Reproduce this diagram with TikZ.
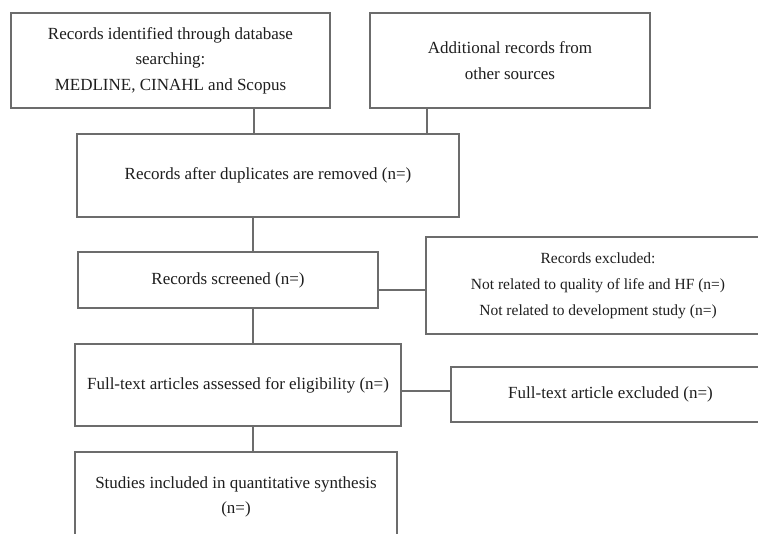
\documentclass[tikz,border=0pt]{standalone}
\usepackage{fontspec}
\setmainfont{Liberation Serif}
\definecolor{boxgray}{RGB}{108,108,108}
\definecolor{textgray}{RGB}{30,30,30}
\tikzstyle{box}=[rectangle, draw=boxgray, line width=2.6pt, fill=white, inner sep=0pt, text=textgray, align=center, font=\fontsize{17}{25.5}\selectfont]
\tikzstyle{small}=[font=\fontsize{15.5}{26}\selectfont]
\tikzstyle{edge}=[draw=boxgray, line width=2.6pt]

\begin{document}
\begin{tikzpicture}[x=1pt, y=-1pt]
			\useasboundingbox (0,0) rectangle (758,534);
			\clip (0,0) rectangle (758,534);
			\node [style=box, minimum width=319pt, minimum height=95pt] (search) at (170.5, 60.5) {Records identified through database\\searching:\\MEDLINE, CINAHL and Scopus};
			\node [style=box, minimum width=280pt, minimum height=95pt] (other) at (510, 60.5) {Additional records from\\other sources};
			\node [style=box, minimum width=382pt, minimum height=83pt] (dedup) at (268, 175.5) {Records after duplicates are removed (n=)};
			\node [style=box, minimum width=300pt, minimum height=56pt] (screen) at (228, 280) {Records screened (n=)};
			\node [style=box, small, minimum width=344pt, minimum height=97pt] (excl) at (598, 285.5) {Records excluded:\\Not related to quality of life and HF (n=)\\Not related to development study (n=)};
			\node [style=box, minimum width=326pt, minimum height=82pt] (fulltext) at (238, 385) {Full-text articles assessed for eligibility (n=)};
			\node [style=box, minimum width=319pt, minimum height=55pt] (ftexcl) at (610.5, 394.5) {Full-text article excluded (n=)};
			\node [style=box, minimum width=322pt, minimum height=90pt] (incl) at (236, 497) {Studies included in quantitative synthesis\\(n=)};
			\coordinate (spine) at (253, 0);
			\coordinate (joinA) at (254, 0);
			\coordinate (joinB) at (427, 0);
			\coordinate (rowE) at (0, 290);
			\coordinate (rowG) at (0, 391);
			\draw [style=edge] (search.south -| joinA) to (dedup.north -| joinA);
			\draw [style=edge] (other.south -| joinB) to (dedup.north -| joinB);
			\draw [style=edge] (dedup.south -| spine) to (screen.north -| spine);
			\draw [style=edge] (screen.east |- rowE) to (excl.west |- rowE);
			\draw [style=edge] (screen.south -| spine) to (fulltext.north -| spine);
			\draw [style=edge] (fulltext.east |- rowG) to (ftexcl.west |- rowG);
			\draw [style=edge] (fulltext.south -| spine) to (incl.north -| spine);
\end{tikzpicture}
\end{document}
